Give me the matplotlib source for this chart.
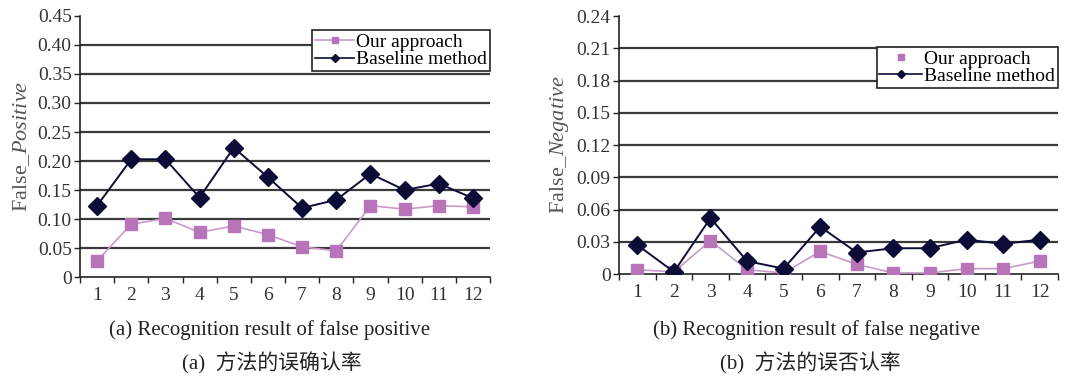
import matplotlib

matplotlib.use("Agg")
import matplotlib.pyplot as plt  # noqa: E402
from matplotlib.lines import Line2D  # noqa: E402

plt.rcParams["font.family"] = ["Liberation Serif", "Noto Sans CJK SC"]
plt.rcParams["mathtext.fontset"] = "custom"
plt.rcParams["mathtext.rm"] = "Liberation Serif"
plt.rcParams["mathtext.it"] = "Liberation Serif:italic"

# data
samples = list(range(1, 13))
fp_ours = [0.028, 0.091, 0.101, 0.077, 0.088, 0.073, 0.052, 0.045, 0.123, 0.117, 0.123, 0.121]
fp_base = [0.123, 0.203, 0.203, 0.137, 0.223, 0.172, 0.119, 0.133, 0.178, 0.150, 0.161, 0.136]
fn_ours = [0.004, 0.002, 0.031, 0.004, 0.001, 0.021, 0.009, 0.001, 0.001, 0.005, 0.005, 0.012]
fn_base = [0.027, 0.002, 0.052, 0.012, 0.005, 0.044, 0.020, 0.024, 0.024, 0.032, 0.028, 0.032]

fp_ticks = [0, 0.05, 0.10, 0.15, 0.20, 0.25, 0.30, 0.35, 0.40, 0.45]
fn_ticks = [0, 0.03, 0.06, 0.09, 0.12, 0.15, 0.18, 0.21, 0.24]

captions_en = ["(a) Recognition result of false positive", "(b) Recognition result of false negative"]
captions_zh = ["(a)  方法的误确认率", "(b)  方法的误否认率"]

PINK = "#b874b8"
PINK_LINE = "#c99ac9"
NAVY = "#0c0c36"
GRID = "#3a3a3a"
TEXT = "#333333"

fig = plt.figure(figsize=(10.87, 3.79), dpi=100)
ax1 = fig.add_axes([0.0736, 0.2691, 0.3772, 0.6887])
ax2 = fig.add_axes([0.5695, 0.2770, 0.4038, 0.6807])


def style_axes(ax, ticks, ylabel, fmt):
    ax.set_xlim(0.5, 12.5)
    ax.set_ylim(ticks[0], ticks[-1])
    ax.set_yticks(ticks)
    ax.set_yticklabels(["0"] + [fmt % t for t in ticks[1:]])
    ax.set_xticks(samples)
    ax.set_xticks([s + 0.5 for s in [0] + samples], minor=True)
    ax.tick_params(axis="x", which="major", length=0, pad=7, labelsize=14, colors=TEXT)
    ax.tick_params(axis="x", which="minor", length=4, width=1, color="#222222")
    ax.tick_params(axis="y", length=4, width=1, labelsize=14, colors=TEXT, color="#222222",
                   pad=2)
    for t in ticks[1:-1]:
        ax.axhline(t, color=GRID, lw=1.6, zorder=1)
    for side in ("top", "right"):
        ax.spines[side].set_visible(False)
    for side in ("left", "bottom"):
        ax.spines[side].set_color("#222222")
        ax.spines[side].set_linewidth(1.2)
    ax.set_ylabel(ylabel, fontsize=16, color="#555555", labelpad=4)


# (a) false positive
ax1.plot(samples, fp_ours, color=PINK_LINE, lw=1.2, marker="s", ms=8,
         mfc=PINK, mec=PINK, zorder=3)
ax1.plot(samples, fp_base, color=NAVY, lw=1.4, marker="D", ms=9,
         mfc=NAVY, mec=NAVY, zorder=4)
style_axes(ax1, fp_ticks, r"False_$\it{Positive}$", "%.2f")
h_ours = Line2D([], [], color=PINK_LINE, lw=1.2, marker="s", ms=4, mfc=PINK, mec=PINK)
h_base = Line2D([], [], color=NAVY, lw=1.2, marker="D", ms=4, mfc=NAVY, mec=NAVY)
leg = ax1.legend([h_ours, h_base], ["Our approach", "Baseline method"],
                 loc="upper right", bbox_to_anchor=(1.0, 0.945), fontsize=14,
                 frameon=True, fancybox=False, framealpha=1, edgecolor="#222222",
                 handlelength=2.0, handletextpad=0.1, borderpad=0.15,
                 labelspacing=0.0, borderaxespad=0)
leg.get_frame().set_linewidth(1.2)

# (b) false negative
ax2.plot(samples, fn_ours, color=PINK_LINE, lw=1.2, marker="s", ms=8,
         mfc=PINK, mec=PINK, zorder=3)
ax2.plot(samples, fn_base, color=NAVY, lw=1.4, marker="D", ms=9,
         mfc=NAVY, mec=NAVY, zorder=4)
style_axes(ax2, fn_ticks, r"False_$\it{Negative}$", "%.2f")
h_ours2 = Line2D([], [], ls="none", marker="s", ms=4, mfc=PINK, mec=PINK)
leg2 = ax2.legend([h_ours2, h_base], ["Our approach", "Baseline method"],
                  loc="upper right", bbox_to_anchor=(1.0, 0.88), fontsize=14,
                  frameon=True, fancybox=False, framealpha=1, edgecolor="#222222",
                  handlelength=2.2, handletextpad=0.1, borderpad=0.15,
                  labelspacing=0.0, borderaxespad=0)
leg2.get_frame().set_linewidth(1.2)

# captions
for x_en, x_zh, en, zh in zip([270 / 1087, 817 / 1087], [272 / 1087, 810 / 1087],
                              captions_en, captions_zh):
    fig.text(x_en, 1 - 330 / 379, en, ha="center", va="center", fontsize=15, color="#222222")
    fig.text(x_zh, 1 - 363 / 379, zh, ha="center", va="center", fontsize=15, color="#222222")

fig.savefig("out.png", dpi=100, facecolor="white")
